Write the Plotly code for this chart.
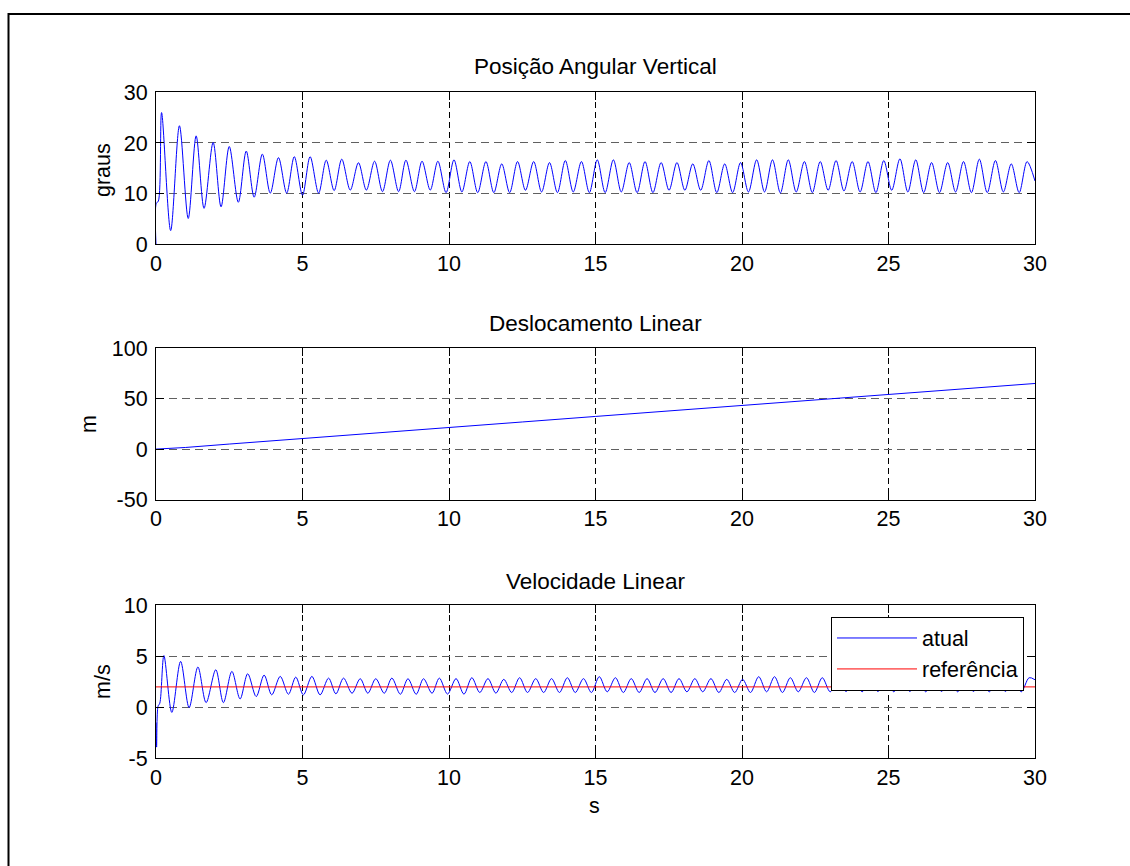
import plotly.graph_objects as go

W, H = 1130, 866

# ---------------- data ----------------
# Top: Posição Angular Vertical (graus) – turning points of the oscillation
angle_start_t = [0.0, 0.01, 0.08]
angle_start_v = [0.0, 8.1, 8.5]
angle_peak_t = [0.19, 0.80, 1.37, 1.95, 2.50, 3.08, 3.63, 4.18, 4.72, 5.26, 5.81, 6.34, 6.91,
                7.46, 8.00, 8.53, 9.08, 9.62,
                10.17, 10.71, 11.26, 11.80, 12.34, 12.89, 13.43, 13.97, 14.52, 15.06, 15.61,
                16.15, 16.69, 17.24, 17.78, 18.32, 18.87, 19.41, 19.95, 20.50, 21.04, 21.58,
                22.13, 22.67, 23.21, 23.76, 24.30, 24.84, 25.39, 25.93, 26.47, 27.02, 27.56,
                28.10, 28.65, 29.19, 29.73]
angle_peak_v = [26.0, 23.4, 21.4, 20.1, 19.3, 18.4, 17.8, 17.1, 17.3, 17.3, 16.6, 16.8, 16.1,
                16.4, 16.6, 16.6, 16.4, 16.4,
                16.67, 16.33, 16.33, 15.87, 16.33, 16.33, 16.13, 16.53, 16.33, 16.67, 16.67,
                16.13, 16.33, 16.13, 16.13, 15.87, 16.53, 15.87, 16.13, 16.67, 16.67, 16.67,
                16.33, 16.33, 16.53, 16.33, 16.33, 16.53, 16.87, 16.67, 16.13, 16.13, 16.33,
                16.80, 16.53, 15.87, 16.33]
angle_trough_t = [0.50, 1.10, 1.64, 2.22, 2.81, 3.35, 3.90, 4.46, 5.00, 5.55, 6.08, 6.63, 7.18,
                  7.73, 8.28, 8.82, 9.36, 9.90,
                  10.44, 10.98, 11.53, 12.07, 12.61, 13.16, 13.70, 14.24, 14.79, 15.33, 15.88,
                  16.42, 16.96, 17.51, 18.05, 18.59, 19.14, 19.68, 20.22, 20.77, 21.31, 21.85,
                  22.40, 22.94, 23.48, 24.03, 24.57, 25.11, 25.66, 26.20, 26.74, 27.29, 27.83,
                  28.37, 28.92, 29.46]
angle_trough_v = [2.7, 5.1, 7.1, 7.4, 8.3, 9.3, 10.1, 10.1, 9.7, 10.1, 10.6, 10.7, 10.7,
                  10.4, 10.4, 10.4, 10.7, 10.2,
                  10.33, 10.2, 10.2, 10.2, 10.67, 10.33, 10.2, 10.33, 10.2, 10.2, 10.33,
                  10.2, 10.2, 10.67, 10.67, 10.67, 10.2, 10.2, 10.33, 10.33, 10.13, 10.33,
                  10.2, 10.67, 10.53, 10.33, 10.2, 10.67, 10.33, 10.2, 10.2, 10.33, 10.2,
                  10.2, 10.33, 10.2]
angle_end_t = [30.0]
angle_end_v = [12.5]

# Middle: Deslocamento Linear (m)
disp_t = [0, 1, 2.5, 5, 7.5, 10, 12.5, 15, 17.5, 20, 22.5, 25, 27.5, 30]
disp_v = [0, 1.6, 5.0, 10.3, 15.8, 21.5, 26.9, 32.4, 37.8, 43.3, 48.8, 54.3, 59.7, 65.1]

# Bottom: Velocidade Linear (m/s)
vel_start_t = [0.0, 0.02, 0.07, 0.13]
vel_start_v = [-1.5, -3.9, 0.1, 0.4]
vel_peak_t = [0.27, 0.84, 1.43, 2.04, 2.59, 3.13, 3.69, 4.24, 4.77, 5.32, 5.89, 6.40, 6.97,
              7.50, 8.05, 8.60, 9.13, 9.67,
              10.24, 10.78, 11.33, 11.87, 12.41, 12.96, 13.50, 14.04, 14.59, 15.13, 15.68,
              16.22, 16.76, 17.31, 17.85, 18.39, 18.94, 19.48, 20.02, 20.57, 21.11, 21.65,
              22.20, 22.74, 23.28, 23.83, 24.37, 24.91, 25.46, 26.00, 26.54, 27.09, 27.63,
              28.17, 28.72, 29.26, 29.80]
vel_peak_v = [5.07, 4.5, 3.95, 3.68, 3.52, 3.29, 3.16, 3.03, 2.96, 3.03, 2.86, 2.86, 2.8,
              2.8, 2.86, 2.8, 2.8, 2.86,
              2.81, 2.9, 2.81, 2.74, 2.9, 2.81, 2.81, 2.9, 2.81, 3.0, 2.9,
              2.81, 2.81, 2.81, 2.81, 2.81, 2.81, 2.74, 2.74, 3.0, 3.0, 2.9,
              2.9, 2.9, 2.85, 2.85, 2.85, 2.85, 2.85, 2.85, 2.85, 2.85, 2.85,
              2.85, 2.85, 2.85, 2.9]
vel_trough_t = [0.54, 1.13, 1.71, 2.30, 2.87, 3.42, 3.95, 4.52, 5.03, 5.60, 6.14, 6.69, 7.23,
                7.79, 8.34, 8.88, 9.42, 9.95,
                10.51, 11.05, 11.60, 12.14, 12.68, 13.23, 13.77, 14.31, 14.86, 15.40, 15.95,
                16.49, 17.03, 17.58, 18.12, 18.66, 19.21, 19.75, 20.29, 20.84, 21.38, 21.92,
                22.47, 23.01, 23.55, 24.10, 24.64, 25.18, 25.73, 26.27, 26.81, 27.36, 27.90,
                28.44, 28.99, 29.53]
vel_trough_v = [-0.5, -0.03, 0.46, 0.46, 0.82, 1.05, 1.22, 1.28, 1.22, 1.22, 1.32, 1.38, 1.38,
                1.38, 1.28, 1.28, 1.38, 1.3,
                1.29, 1.45, 1.39, 1.45, 1.45, 1.45, 1.45, 1.45, 1.45, 1.52, 1.45,
                1.45, 1.45, 1.45, 1.52, 1.52, 1.45, 1.45, 1.45, 1.52, 1.45, 1.52,
                1.45, 1.52, 1.55, 1.52, 1.55, 1.52, 1.55, 1.52, 1.55, 1.52, 1.55,
                1.52, 1.55, 1.52]
vel_end_t = [30.0]
vel_end_v = [2.7]

ref_t = [0, 30]
ref_v = [2, 2]

x_ticks = [0, 5, 10, 15, 20, 25, 30]
y1_ticks = [0, 10, 20, 30]
y2_ticks = [-50, 0, 50, 100]
y3_ticks = [-5, 0, 5, 10]

titles = ["Posição Angular Vertical", "Deslocamento Linear", "Velocidade Linear"]
ylabels = ["graus", "m", "m/s"]
xlabel = "s"
legend_names = ["atual", "referência"]


def merge(*pairs):
    pts = []
    for t, v in pairs:
        pts += list(zip(t, v))
    pts.sort(key=lambda p: p[0])
    return [p[0] for p in pts], [p[1] for p in pts]


ang_t, ang_v = merge((angle_start_t, angle_start_v), (angle_peak_t, angle_peak_v),
                     (angle_trough_t, angle_trough_v), (angle_end_t, angle_end_v))
v_t, v_v = merge((vel_start_t, vel_start_v), (vel_peak_t, vel_peak_v),
                 (vel_trough_t, vel_trough_v), (vel_end_t, vel_end_v))

# ---------------- figure ----------------
FONT = "Liberation Sans, Arial, Helvetica, sans-serif"
FS = 21.5
FS_TITLE = 22.5
BLUE = "#0000FF"
RED = "#FF0000"


def px(x):
    return x / W


def py(y):
    return 1 - y / H


fig = go.Figure()
fig.add_trace(go.Scatter(x=ang_t, y=ang_v, mode="lines", line=dict(color=BLUE, width=1, shape="spline", smoothing=0.9),
                         xaxis="x", yaxis="y", showlegend=False))
fig.add_trace(go.Scatter(x=disp_t, y=disp_v, mode="lines", line=dict(color=BLUE, width=1),
                         xaxis="x2", yaxis="y2", showlegend=False))
fig.add_trace(go.Scatter(x=v_t, y=v_v, mode="lines", name=legend_names[0], legendgroup="a",
                         line=dict(color=BLUE, width=1, shape="spline", smoothing=0.9),
                         xaxis="x3", yaxis="y3"))
fig.add_trace(go.Scatter(x=ref_t, y=ref_v, mode="lines", name=legend_names[1], legendgroup="b",
                         line=dict(color=RED, width=1), xaxis="x3", yaxis="y3"))

# axes pixel boxes (left, right, top, bottom)
boxes = [(156, 1035, 92.3, 244.3), (156, 1035, 348.3, 499.5), (156, 1035, 605.3, 758.3)]
yranges = [[0, 30], [-50, 100], [-5, 10]]
yticks = [y1_ticks, y2_ticks, y3_ticks]

common_axis = dict(showline=True, linecolor="black", linewidth=1.2, mirror="ticks",
                   ticks="inside", ticklen=8, tickcolor="black", tickwidth=1,
                   tickfont=dict(family=FONT, size=FS, color="black"), zeroline=False,
                   automargin=False, showgrid=True, fixedrange=True)

layout = dict(width=W, height=H, margin=dict(l=0, r=0, t=0, b=0),
              paper_bgcolor="white", plot_bgcolor="white",
              font=dict(family=FONT, size=FS, color="black"))
for i, (l, r, t, b) in enumerate(boxes):
    sfx = "" if i == 0 else str(i + 1)
    layout["xaxis" + sfx] = dict(common_axis, domain=[px(l), px(r)], range=[0, 30],
                                 tickvals=x_ticks, ticktext=[str(v) for v in x_ticks],
                                 anchor="y" + sfx,
                                 gridcolor="black", griddash="6px,4px", gridwidth=1,
                                 ticklabelstandoff=0)
    layout["yaxis" + sfx] = dict(common_axis, domain=[py(b), py(t)], range=yranges[i],
                                 tickvals=yticks[i], ticktext=[str(v) for v in yticks[i]],
                                 anchor="x" + sfx,
                                 gridcolor="#606060", griddash="8px,5px", gridwidth=1,
                                 ticklabelstandoff=3)

annotations = []
title_y = [67, 323, 581]
ylab_pos = [(103, 170), (89, 424), (103, 682)]
for i in range(3):
    annotations.append(dict(text=titles[i], x=px(595.5), y=py(title_y[i]), xref="paper", yref="paper",
                            xanchor="center", yanchor="middle", showarrow=False,
                            font=dict(family=FONT, size=FS_TITLE, color="black")))
    annotations.append(dict(text=ylabels[i], x=px(ylab_pos[i][0]), y=py(ylab_pos[i][1]), xref="paper",
                            yref="paper", xanchor="center", yanchor="middle", showarrow=False,
                            textangle=-90, font=dict(family=FONT, size=FS, color="black")))
annotations.append(dict(text=xlabel, x=px(594), y=py(806), xref="paper", yref="paper",
                        xanchor="center", yanchor="middle", showarrow=False,
                        font=dict(family=FONT, size=FS, color="black")))
layout["annotations"] = annotations

layout["shapes"] = [dict(type="rect", xref="paper", yref="paper", x0=px(8.5), x1=1.3,
                         y0=-0.3, y1=py(14), line=dict(color="black", width=2),
                         fillcolor="rgba(0,0,0,0)", layer="above")]

layout["legend"] = dict(x=px(831), y=py(616.5), xanchor="left", yanchor="top",
                        bgcolor="white", bordercolor="black", borderwidth=1,
                        font=dict(family=FONT, size=FS, color="black"),
                        itemwidth=80, tracegroupgap=0)

fig.update_layout(**layout)
fig.write_html("out.html", config={"displayModeBar": False})
